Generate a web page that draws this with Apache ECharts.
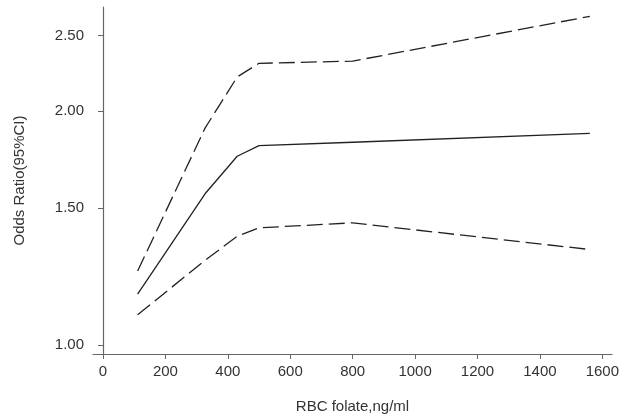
<!DOCTYPE html>
<html>
<head>
<meta charset="utf-8">
<script src="https://cdn.jsdelivr.net/npm/echarts@6/dist/echarts.min.js"></script>
<style>
  html, body { margin: 0; padding: 0; background: #fff; }
  #chart { width: 630px; height: 419px; }
</style>
</head>
<body>
<div id="chart"></div>
<script>
// RBC folate 取值 (ng/ml)
const folate = [111, 327, 430, 500, 800, 1560]
// 比值比及95%置信区间
const oddsRatio = [1.162, 1.564, 1.748, 1.804, 1.822, 1.871]
const upperCI = [1.244, 1.90, 2.211, 2.302, 2.317, 2.646]
const lowerCI = [1.093, 1.284, 1.379, 1.414, 1.435, 1.326]
// 坐标轴刻度
const xTicks = [0, 200, 400, 600, 800, 1000, 1200, 1400, 1600]
const yTicks = [1.0, 1.5, 2.0, 2.5]

const pairs = (ys) => folate.map((x, i) => [x, ys[i]])

const mycharts = echarts.init(document.querySelector('#chart'))
const textStyle = { color: '#333', fontSize: 15, fontFamily: 'Liberation Sans, Arial, sans-serif' }
const option = {
  animation: false,
  grid: { left: 93, right: 18, top: 7, bottom: 63 },
  xAxis: {
    type: 'value',
    min: -32,
    max: 1631,
    name: 'RBC folate,ng/ml',
    nameLocation: 'middle',
    nameGap: 45,
    nameTextStyle: textStyle,
    axisLine: { lineStyle: { color: '#666', width: 1.2 } },
    axisTick: { show: true, length: 5, lineStyle: { color: '#666' }, customValues: xTicks },
    axisLabel: Object.assign({
      margin: 10,
      customValues: xTicks,
      formatter: (v) => String(v)
    }, textStyle),
    splitLine: { show: false }
  },
  yAxis: {
    type: 'log',
    logBase: Math.E,
    min: 0.973,
    max: 2.72,
    name: 'Odds Ratio(95%CI)',
    nameLocation: 'middle',
    nameGap: 66,
    nameTextStyle: textStyle,
    axisLine: { show: true, lineStyle: { color: '#666', width: 1.2 } },
    axisTick: { show: true, length: 5, lineStyle: { color: '#666' }, customValues: yTicks },
    axisLabel: Object.assign({
      margin: 9,
      customValues: yTicks,
      formatter: (v) => Number(v).toFixed(2)
    }, textStyle),
    splitLine: { show: false }
  },
  series: [
    {
      name: 'OR',
      type: 'line',
      symbol: 'none',
      data: pairs(oddsRatio),
      lineStyle: { color: '#222', width: 1.3, type: 'solid' }
    },
    {
      name: 'upper',
      type: 'line',
      symbol: 'none',
      data: pairs(upperCI),
      lineStyle: { color: '#222', width: 1.3, type: [16, 6] }
    },
    {
      name: 'lower',
      type: 'line',
      symbol: 'none',
      data: pairs(lowerCI),
      lineStyle: { color: '#222', width: 1.3, type: [16, 6] }
    }
  ]
}
mycharts.setOption(option)
</script>
</body>
</html>
